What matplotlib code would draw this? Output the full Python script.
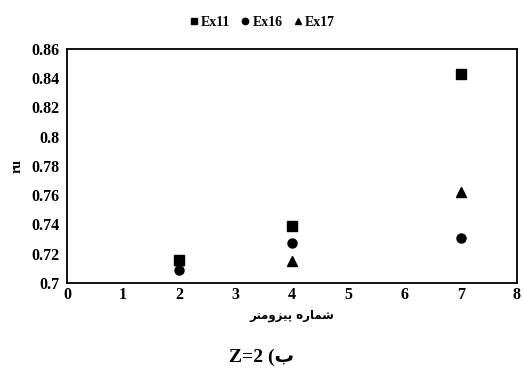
import matplotlib.pyplot as plt

# piezometer number vs ru
x_ex11 = [2, 4, 7]
y_ex11 = [0.716, 0.739, 0.843]
x_ex16 = [2, 4, 7]
y_ex16 = [0.709, 0.727, 0.731]
x_ex17 = [2, 4, 7]
y_ex17 = [0.716, 0.715, 0.762]

xticks = [0, 1, 2, 3, 4, 5, 6, 7, 8]
yticks = [0.7, 0.72, 0.74, 0.76, 0.78, 0.8, 0.82, 0.84, 0.86]
ytick_labels = ['0.7', '0.72', '0.74', '0.76', '0.78', '0.8', '0.82', '0.84', '0.86']

# Persian text in visual order with presentation forms (matplotlib does no shaping)
xlabel = '\uFEAE\uFE98\uFEE3\uFEED\uFEB0\uFBFF\uFB58 \uFEE9\uFEAD\uFE8E\uFEE4\uFEB7'
caption = 'Z=2 (\uFE8F'

plt.rcParams['font.family'] = ['Liberation Serif', 'DejaVu Sans']
plt.rcParams['font.weight'] = 'bold'

fig = plt.figure(figsize=(5.23, 3.68), dpi=100)
ax = fig.add_axes([0.128, 0.231, 0.8605, 0.636])

ax.plot(x_ex11, y_ex11, 's', color='black', markersize=6.5, label='Ex11', linestyle='none')
ax.plot(x_ex16, y_ex16, 'o', color='black', markersize=6.5, label='Ex16', linestyle='none')
ax.plot(x_ex17, y_ex17, '^', color='black', markersize=7, label='Ex17', linestyle='none')

ax.set_xlim(0, 8)
ax.set_ylim(0.7, 0.86)
ax.set_xticks(xticks)
ax.set_yticks(yticks)
ax.set_yticklabels(ytick_labels)
ax.tick_params(axis='y', length=0, labelsize=11.5, pad=5)
ax.tick_params(axis='x', length=0, labelsize=11.5, pad=3)
for lab in ax.get_xticklabels() + ax.get_yticklabels():
    lab.set_fontweight('bold')

for s in ax.spines.values():
    s.set_linewidth(1.3)
    s.set_color('black')

ax.set_ylabel('ru', fontsize=10, fontweight='bold', labelpad=6)
ax.set_xlabel(xlabel, fontsize=8.5, fontweight='bold', family=['DejaVu Sans'], labelpad=4)

fig.legend(loc='upper center', bbox_to_anchor=(0.5, 0.99), ncol=3, frameon=False,
           handlelength=0.8, handletextpad=0.1, columnspacing=0.7, markerscale=0.7,
           prop={'size': 10, 'weight': 'bold'})

fig.text(0.5, 0.03, caption, ha='center', va='center', fontsize=14, fontweight='bold')

fig.savefig('out.png', dpi=100)
